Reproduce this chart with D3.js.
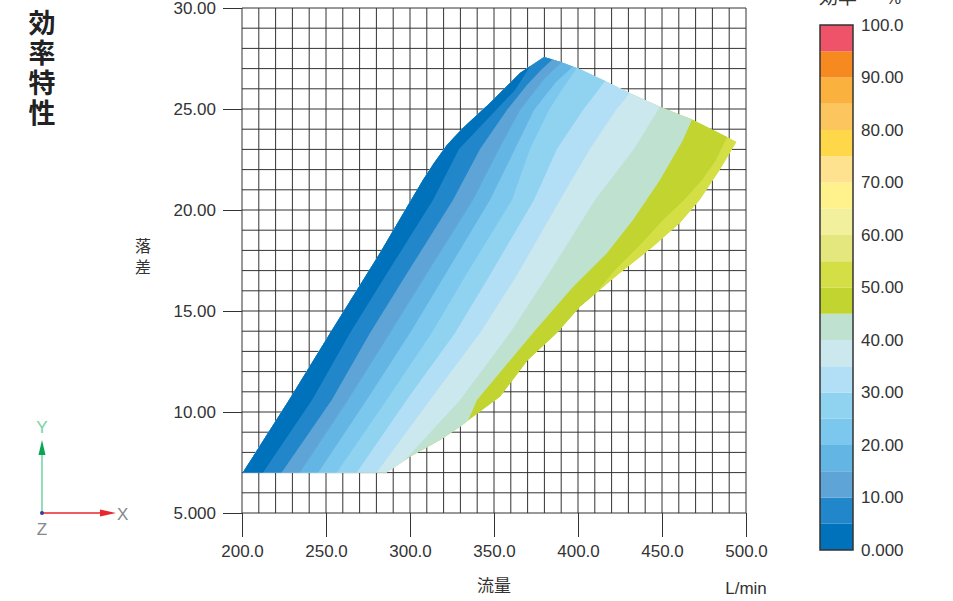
<!DOCTYPE html>
<html>
<head>
<meta charset="utf-8">
<script src="https://cdn.jsdelivr.net/npm/d3@7"></script>
<style>
body{margin:0;background:#fff;}
svg{display:block;}
</style>
</head>
<body>
<svg id="chart" width="953" height="601"></svg>
<script>

// ticks
var flowTicks = [200,250,300,350,400,450,500];
var headTicks = [5,10,15,20,25,30];
var effTicks = [0,10,20,30,40,50,60,70,80,90,100];
var effLevels = [0,5,10,15,20,25,30,35,40,45,50,55,60,65,70,75,80,85,90,95,100];

// one colour per 5% band, from 0-5 up to 95-100
var bandColors = ["#0071bb","#2187ca","#5fa4d6","#63b5e3","#7cc7ed","#8fd3f1","#b2dff5","#cbe8ef","#bfe1cf","#c1d42f",
	"#d3df44","#e3e77e","#f2f09c","#fff28c","#ffe28f","#ffd84a","#fdc55e","#fbb13d","#f68a21","#ee5369"];

// operating range [flow, head]
var envelope = [[200.5,7.0],[228.0,10.59],[252.4,13.90],[282.1,17.87],[298.2,20.15],[307.7,21.49],[314.3,22.33],[322.0,23.22],
	[331.5,24.06],[347.6,25.30],[365.5,26.78],[379.8,27.57],[389.3,27.34],[401.2,26.97],[417.1,26.35],[431.0,25.78],
	[448.8,25.11],[467.7,24.49],[494.5,23.38],[484.5,21.98],[472.6,20.50],[460.7,19.34],[444.8,18.18],[425.0,16.87],
	[401.2,15.21],[387.3,13.90],[370.2,12.57],[353.6,10.76],[337.5,9.77],[329.8,9.27],[317.9,8.61],[300.0,7.79],[286.1,7.0]];

// iso-efficiency lines [flow, head]
var iso05 = [[205.9,6.14],[212.5,7],[241.7,10.59],[264.3,13.91],[285.7,16.78],[313.7,20.50],[329.2,23.02],[351.2,24.95],[362.5,25.94],[372.0,27.18],[362.5,28.42]];
var iso10 = [[216.7,6.14],[223.6,7],[253.4,10.59],[276.2,13.91],[297.6,16.78],[325.6,20.50],[341.7,23.02],[357.7,24.95],[369.6,26.19],[378.0,26.93],[385.1,27.48],[389.3,28.42]];
var iso15 = [[227.4,6.14],[234.5,7],[263.1,10.59],[288.1,13.91],[309.5,16.78],[337.5,20.50],[353.0,23.02],[365.5,24.95],[380.4,26.53],[390.5,27.33],[395.2,28.42]];
var iso20 = [[238.1,6.14],[245.4,7],[274.2,10.59],[300.0,13.91],[320.8,16.78],[347.6,20.50],[362.5,23.02],[373.8,24.95],[386.9,26.34],[397.0,27.10],[404.2,28.42]];
var iso25 = [[248.8,6.14],[256.4,7],[286.1,10.59],[312.9,13.91],[333.3,16.78],[360.7,20.50],[371.4,23.02],[382.7,24.95],[391.1,26.04],[399.4,27.03],[407.1,28.17]];
var iso30 = [[260.7,6.14],[268.3,7],[298.0,10.59],[326.8,13.91],[347.6,16.78],[373.8,20.50],[387.5,23.02],[403.0,24.95],[416.1,26.39],[425.0,27.67]];
var iso35 = [[272.6,6.14],[280.2,7],[311.9,10.59],[341.7,13.91],[363.7,16.78],[389.3,20.50],[407.1,23.02],[422.6,24.95],[431.0,25.81],[439.9,26.93]];
var iso40 = [[311.9,6.14],[297.0,7.62],[329.8,10.59],[359.5,13.91],[382.1,16.78],[410.1,20.50],[433.3,23.02],[448.8,25.11],[457.7,26.19]];
var iso45 = [[350.6,8.37],[334.5,9.55],[339.9,10.59],[373.2,13.91],[397.0,16.19],[417.3,17.87],[432.7,19.50],[448.8,21.49],[462.5,23.47],[467.9,24.49],[475.6,25.45]];
var iso50 = [[411.9,14.46],[407.1,15.54],[422.0,17.03],[436.9,18.27],[450.6,19.50],[463.1,20.50],[473.8,21.49],[482.1,22.48],[488.7,23.61],[496.4,24.55]];

var isolines = [iso05,iso10,iso15,iso20,iso25,iso30,iso35,iso40,iso45,iso50];


var numFont = "'Liberation Sans', Arial, sans-serif";
var jpFont = "'Noto Sans CJK JP', sans-serif";
var fmt = d3.format(".4r");

var svg = d3.select("#chart");

var x = d3.scaleLinear().domain([200,500]).range([242,746]);
var y = d3.scaleLinear().domain([5,30]).range([513,8]);

var line = d3.line()
	.x(function(d){ return x(d[0]); })
	.y(function(d){ return y(d[1]); });

// grid
var grid = svg.append("g").attr("stroke","#333").attr("stroke-width",1);
grid.selectAll("line.v")
	.data(d3.range(200,501,10))
	.enter().append("line")
	.attr("class","v")
	.attr("x1",function(d){ return x(d); })
	.attr("x2",function(d){ return x(d); })
	.attr("y1",y(30))
	.attr("y2",y(5));
grid.selectAll("line.h")
	.data(d3.range(5,31,1))
	.enter().append("line")
	.attr("class","h")
	.attr("x1",x(200))
	.attr("x2",x(500))
	.attr("y1",function(d){ return y(d); })
	.attr("y2",function(d){ return y(d); });

// contour fill, clipped to the operating range
svg.append("clipPath").attr("id","envClip")
	.append("path").attr("d", line(envelope)+"Z");

var contourGroup = svg.append("g").attr("clip-path","url(#envClip)");

contourGroup.append("path")
	.attr("d", line(envelope)+"Z")
	.attr("fill", bandColors[isolines.length]);

// paint from the highest level down; each layer covers everything left of its line
for(var k = isolines.length-1; k >= 0; k--){
	var iso = isolines[k];
	var last = iso[iso.length-1];
	var poly = [[iso[0][0],0]].concat(iso, [[last[0],40],[100,40],[100,0]]);
	contourGroup.append("path")
		.attr("d", line(poly)+"Z")
		.attr("fill", bandColors[k]);
}

// axes
var yAxis = d3.axisLeft(y).tickValues(headTicks).tickSize(19).tickPadding(7).tickFormat(fmt);
var gy = svg.append("g").attr("transform","translate("+x(200)+",0)").call(yAxis);
gy.select(".domain").remove();
gy.selectAll("line").attr("stroke","#333");
gy.selectAll("text").attr("font-size",17).attr("font-family",numFont).attr("fill","#333");

var xAxis = d3.axisBottom(x).tickValues(flowTicks).tickSize(24).tickPadding(8).tickFormat(fmt);
var gx = svg.append("g").attr("transform","translate(0,"+y(5)+")").call(xAxis);
gx.select(".domain").remove();
gx.selectAll("line").attr("stroke","#333");
gx.selectAll("text").attr("font-size",17).attr("font-family",numFont).attr("fill","#333");

// axis titles
svg.append("text").attr("x",494).attr("y",592).attr("text-anchor","middle")
	.attr("font-family",jpFont).attr("font-size",17).attr("fill","#333").text("流量");
svg.append("text").attr("x",746).attr("y",594).attr("text-anchor","middle")
	.attr("font-family",numFont).attr("font-size",17).attr("fill","#333").text("L/min");

svg.selectAll("text.ylab")
	.data(["落","差"])
	.enter().append("text")
	.attr("class","ylab")
	.attr("x",143)
	.attr("y",function(d,i){ return 245+i*21; })
	.attr("text-anchor","middle")
	.attr("dominant-baseline","central")
	.attr("font-family",jpFont).attr("font-size",16).attr("fill","#333")
	.text(function(d){ return d; });

// title
svg.selectAll("text.title")
	.data(["効","率","特","性"])
	.enter().append("text")
	.attr("class","title")
	.attr("x",42)
	.attr("y",function(d,i){ return 21.5+i*30; })
	.attr("text-anchor","middle")
	.attr("dominant-baseline","central")
	.attr("font-family",jpFont).attr("font-size",27).attr("font-weight",700).attr("fill","#222")
	.text(function(d){ return d; });

// colour bar
var c = d3.scaleLinear().domain([0,100]).range([550,25]);
var bar = svg.append("g");
bar.selectAll("rect")
	.data(bandColors)
	.enter().append("rect")
	.attr("x",820)
	.attr("width",33)
	.attr("y",function(d,i){ return c(effLevels[i+1]); })
	.attr("height",function(d,i){ return c(effLevels[i]) - c(effLevels[i+1]); })
	.attr("fill",function(d){ return d; });
bar.append("rect")
	.attr("x",820).attr("y",c(100))
	.attr("width",33).attr("height",c(0)-c(100))
	.attr("fill","none").attr("stroke","#333").attr("stroke-width",1.5);
bar.selectAll("text")
	.data(effTicks)
	.enter().append("text")
	.attr("x",861)
	.attr("y",function(d){ return c(d); })
	.attr("dy","0.35em")
	.attr("font-family",numFont).attr("font-size",17).attr("fill","#333")
	.text(function(d){ return fmt(d); });

// bar title sits at the top edge, partly cut off as in the original
svg.append("text").attr("x",819).attr("y",4)
	.attr("font-family",jpFont).attr("font-size",19).attr("fill","#333").text("効率");
svg.append("text").attr("x",886).attr("y",4)
	.attr("font-family",numFont).attr("font-size",17).attr("fill","#333").text("%");

// axis triad
var triad = svg.append("g");
triad.append("line").attr("x1",42).attr("y1",513).attr("x2",42).attr("y2",452)
	.attr("stroke","#6fd39e").attr("stroke-width",1.5);
triad.append("path").attr("d","M42,440L38.5,455L45.5,455Z").attr("fill","#07a653");
triad.append("line").attr("x1",42).attr("y1",513).attr("x2",103).attr("y2",513)
	.attr("stroke","#e8262d").attr("stroke-width",1.5);
triad.append("path").attr("d","M116,513L100,509.5L100,516.5Z").attr("fill","#e8262d");
triad.append("circle").attr("cx",42).attr("cy",513).attr("r",2).attr("fill","#3b3b9a");
triad.append("text").attr("x",42).attr("y",433).attr("text-anchor","middle")
	.attr("font-family",numFont).attr("font-size",17).attr("fill","#74d4a4").text("Y");
triad.append("text").attr("x",117).attr("y",520)
	.attr("font-family",numFont).attr("font-size",17).attr("fill","#888").text("X");
triad.append("text").attr("x",42).attr("y",535).attr("text-anchor","middle")
	.attr("font-family",numFont).attr("font-size",17).attr("fill","#888").text("Z");

</script>
</body>
</html>
